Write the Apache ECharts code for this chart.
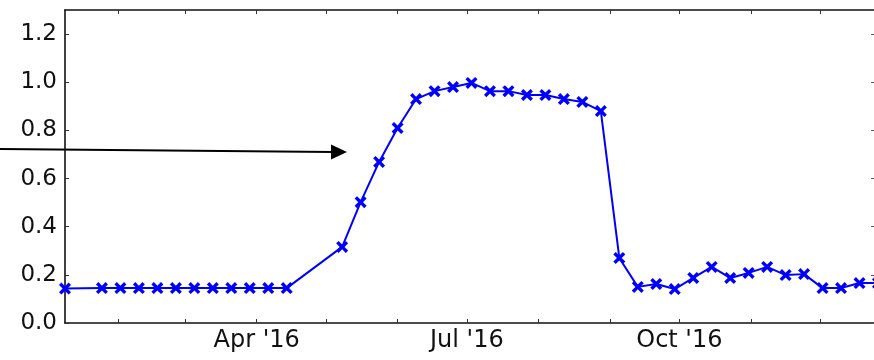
<!DOCTYPE html>
<html lang="en" style="height: 100%">
<head>
<meta charset="utf-8">
<title>Weekly index 2016</title>
</head>
<body style="height: 100%; margin: 0; background: #fff">
<div id="container" style="width: 874px; height: 360px"></div>

<script type="text/javascript" src="https://cdn.jsdelivr.net/npm/echarts/dist/echarts.min.js"></script>

<script type="text/javascript">

var dates = [
    '2016-01-09', '2016-01-25', '2016-02-02', '2016-02-10', '2016-02-18', '2016-02-26',
    '2016-03-05', '2016-03-13', '2016-03-21', '2016-03-29', '2016-04-06', '2016-04-14',
    '2016-05-08', '2016-05-16', '2016-05-24', '2016-06-01', '2016-06-09', '2016-06-17',
    '2016-06-25', '2016-07-03', '2016-07-11', '2016-07-19', '2016-07-27', '2016-08-04',
    '2016-08-12', '2016-08-20', '2016-08-28', '2016-09-05', '2016-09-13', '2016-09-21',
    '2016-09-29', '2016-10-07', '2016-10-15', '2016-10-23', '2016-10-31', '2016-11-08',
    '2016-11-16', '2016-11-24', '2016-12-02', '2016-12-10', '2016-12-18', '2016-12-26'
];
var values = [
    0.143, 0.145, 0.145, 0.145, 0.145, 0.145,
    0.145, 0.145, 0.145, 0.145, 0.145, 0.145,
    0.316, 0.502, 0.669, 0.810, 0.930, 0.963,
    0.980, 0.997, 0.963, 0.963, 0.947, 0.947,
    0.930, 0.918, 0.880, 0.270, 0.150, 0.162,
    0.141, 0.187, 0.233, 0.187, 0.208, 0.233,
    0.199, 0.203, 0.145, 0.145, 0.166, 0.166
];
var monthTicks = [
    '2016-02-01', '2016-03-01', '2016-04-01', '2016-05-01', '2016-06-01', '2016-07-01',
    '2016-08-01', '2016-09-01', '2016-10-01', '2016-11-01', '2016-12-01'
];
var labelDates = ['2016-04-01', '2016-07-01', '2016-10-01'];
var labelTexts = ["Apr '16", "Jul '16", "Oct '16"];
var yTicks = [0, 0.2, 0.4, 0.6, 0.8, 1.0, 1.2];
var xStart = '2016-01-09';
var xEnd = '2016-12-26';

// days since xStart, so the x axis is a plain value axis
var DAY = 86400000;
function ts(s) {
    var p = s.split('-');
    return Date.UTC(+p[0], +p[1] - 1, +p[2]);
}
function dx(s) { return Math.round((ts(s) - ts(xStart)) / DAY); }

var dom = document.getElementById('container');
var myChart = echarts.init(dom);

var labelPos = labelDates.map(dx);
var font = 'DejaVu Sans';
var ink = '#111';
var xMark = 'path://M0,2 L2,0 L5,3 L8,0 L10,2 L7,5 L10,8 L8,10 L5,7 L2,10 L0,8 L3,5 Z';

var spine = { show: true, onZero: false, lineStyle: { color: '#111', width: 1.6 } };
function ticks(vals) {
    return { show: true, inside: true, length: 4, customValues: vals, lineStyle: { color: '#333', width: 1 } };
}

var option = {
    animation: false,
    grid: { left: 65, right: -4, top: 10, bottom: 37, containLabel: false, outerBoundsMode: 'none' },
    xAxis: [
        {
            type: 'value',
            min: 0,
            max: dx(xEnd),
            axisLine: spine,
            axisTick: ticks(monthTicks.map(dx)),
            splitLine: { show: false },
            axisLabel: {
                customValues: labelPos,
                margin: 6,
                fontFamily: font,
                fontSize: 24,
                color: ink,
                formatter: function (v) {
                    var i = labelPos.indexOf(Math.round(v));
                    return i >= 0 ? labelTexts[i] : '';
                }
            }
        },
        {
            type: 'value',
            position: 'top',
            min: 0,
            max: dx(xEnd),
            axisLine: spine,
            axisTick: ticks(monthTicks.map(dx)),
            axisLabel: { show: false },
            splitLine: { show: false }
        }
    ],
    yAxis: [
        {
            type: 'value',
            min: 0,
            max: 1.3,
            axisLine: spine,
            axisTick: ticks(yTicks),
            splitLine: { show: false },
            axisLabel: {
                customValues: yTicks,
                margin: 8,
                fontFamily: font,
                fontSize: 23,
                color: ink,
                formatter: function (v) { return v.toFixed(1); }
            }
        },
        {
            type: 'value',
            position: 'right',
            min: 0,
            max: 1.3,
            axisLine: spine,
            axisTick: { show: true, inside: true, length: 7, customValues: yTicks, lineStyle: { color: '#555', width: 1 } },
            axisLabel: { show: false },
            splitLine: { show: false }
        }
    ],
    series: [
        {
            type: 'line',
            data: dates.map(function (d, i) { return [dx(d), values[i]]; }),
            symbol: xMark,
            symbolSize: 12,
            showAllSymbol: true,
            clip: false,
            lineStyle: { color: '#0000ff', width: 2 },
            itemStyle: { color: '#0000ff' }
        }
    ],
    graphic: [
        {
            type: 'line',
            shape: { x1: 0, y1: 149, x2: 333, y2: 152 },
            style: { stroke: '#000', lineWidth: 2 }
        },
        {
            type: 'polygon',
            shape: { points: [[331, 144.5], [347, 152], [331, 159.5]] },
            style: { fill: '#000' }
        }
    ]
};

myChart.setOption(option);
window.addEventListener('resize', myChart.resize);
</script>
</body>
</html>
